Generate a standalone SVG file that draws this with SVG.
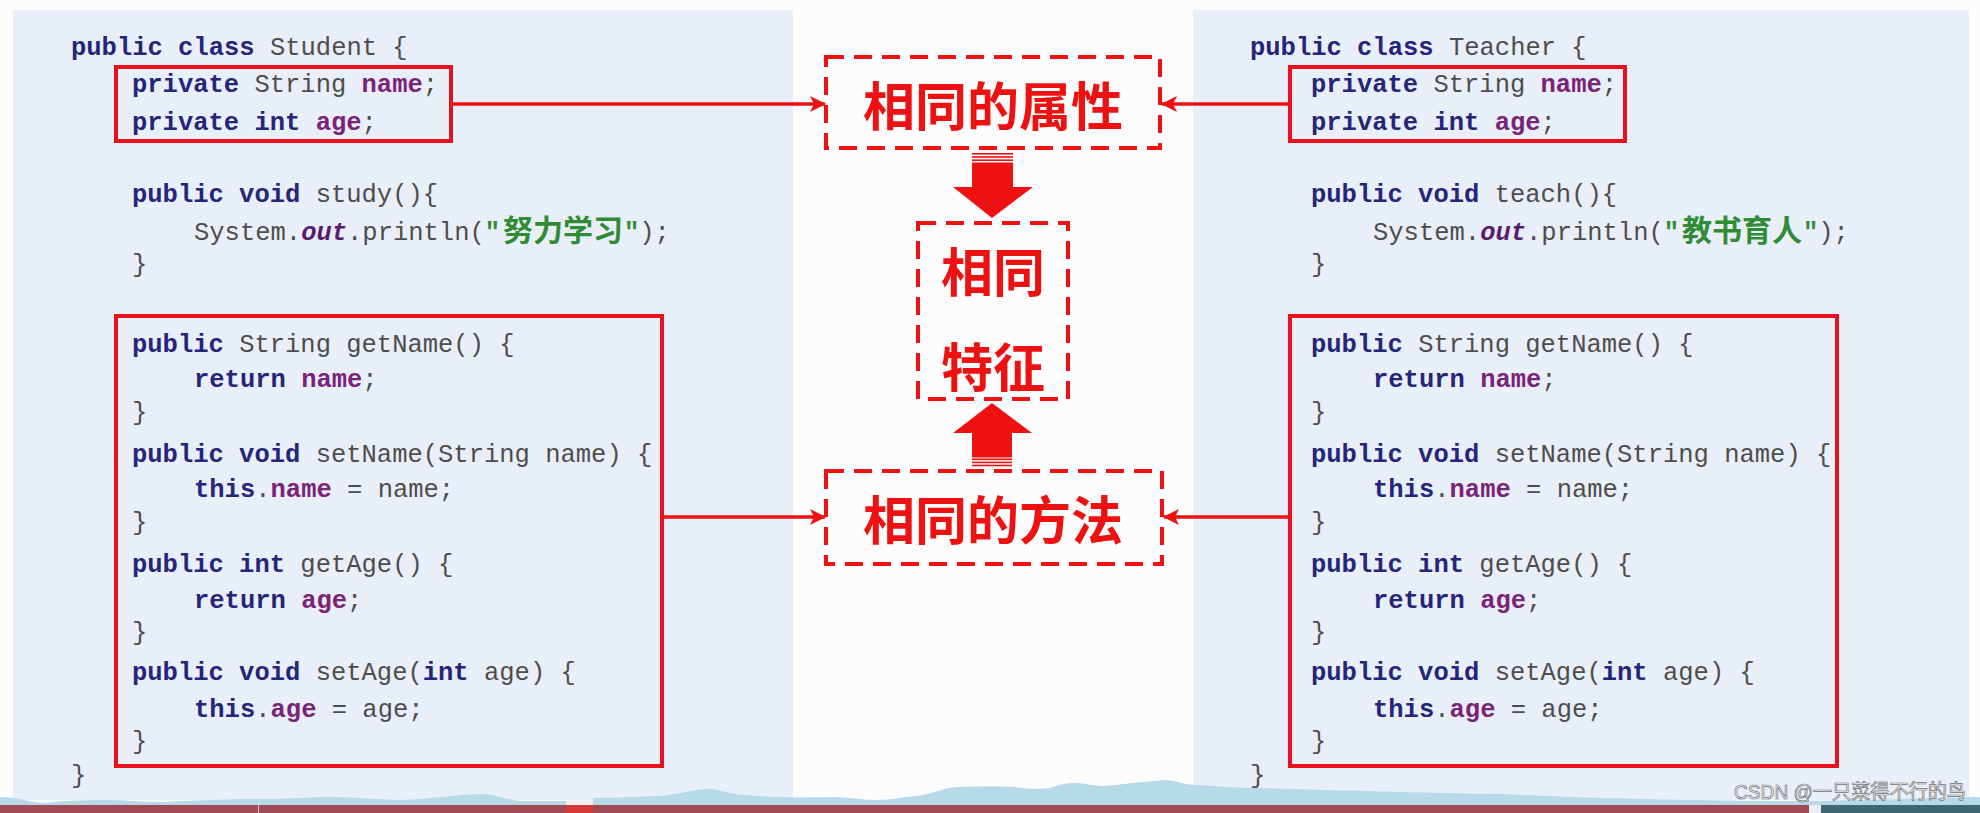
<svg xmlns="http://www.w3.org/2000/svg" width="1980" height="813" viewBox="0 0 1980 813">
<defs>
<style>
.code{font-family:'Liberation Mono','DejaVu Sans Mono',monospace;font-size:25.5px;fill:#4d4d4d}
.kw{fill:#25257a;font-weight:bold}
.fd{fill:#7b2379;font-weight:bold}
.out{fill:#5a1c6e;font-style:italic;font-weight:bold}
.str{fill:#2f8c35;font-weight:bold}
.cjk{font-family:'Noto Sans CJK SC',sans-serif;font-size:30px;fill:#2f8c35;font-weight:bold}
.panel{fill:#e9eff9}
.box{fill:none;stroke:#e8101a;stroke-width:4}
.dash{fill:none;stroke:#ee1111;stroke-width:4;stroke-dasharray:18 10}
.big{font-family:'Noto Sans CJK SC',sans-serif;font-size:52px;font-weight:bold;fill:#ee1111;text-anchor:middle}
.conn{stroke:#ee1111;stroke-width:3.5;fill:none}
.blk{fill:#ee1111}
</style>
<marker id="ah" markerWidth="16" markerHeight="16" refX="15" refY="8" orient="auto" markerUnits="userSpaceOnUse">
<path d="M0,0 L16,8 L0,16 L4,8 z" fill="#ee1111"/>
</marker>
</defs>

<!-- background -->
<rect x="0" y="0" width="1980" height="813" fill="#fcfcfd"/>
<rect class="panel" x="13" y="10" width="780" height="790"/>
<rect class="panel" x="1193" y="10" width="776" height="790"/>

<!-- Student class -->
<g id="student-class">
<text class="code" x="71" y="55" xml:space="preserve"><tspan class="kw">public class</tspan> Student {</text>
<text class="code" x="132" y="202" xml:space="preserve"><tspan class="kw">public void</tspan> study(){</text>
<text class="code" x="194" y="240" xml:space="preserve">System.<tspan class="out">out</tspan>.println(<tspan class="str">"</tspan></text>
<text class="cjk" x="503" y="241">努力学习</text>
<text class="code" x="624" y="240" xml:space="preserve"><tspan class="str">"</tspan>);</text>
<text class="code" x="132" y="272">}</text>
<text class="code" x="71" y="783">}</text>
</g>
<g id="student-fields">
<rect class="box" x="116" y="67" width="335" height="74"/>
<text class="code" x="132" y="92" xml:space="preserve"><tspan class="kw">private</tspan> String <tspan class="fd">name</tspan>;</text>
<text class="code" x="132" y="130" xml:space="preserve"><tspan class="kw">private int</tspan> <tspan class="fd">age</tspan>;</text>
</g>
<g id="student-methods">
<rect class="box" x="116" y="316" width="546" height="450"/>
<text class="code" x="132" y="352" xml:space="preserve"><tspan class="kw">public</tspan> String getName() {</text>
<text class="code" x="194" y="387" xml:space="preserve"><tspan class="kw">return</tspan> <tspan class="fd">name</tspan>;</text>
<text class="code" x="132" y="420">}</text>
<text class="code" x="132" y="462" xml:space="preserve"><tspan class="kw">public void</tspan> setName(String name) {</text>
<text class="code" x="194" y="497" xml:space="preserve"><tspan class="kw">this</tspan>.<tspan class="fd">name</tspan> = name;</text>
<text class="code" x="132" y="530">}</text>
<text class="code" x="132" y="572" xml:space="preserve"><tspan class="kw">public int</tspan> getAge() {</text>
<text class="code" x="194" y="608" xml:space="preserve"><tspan class="kw">return</tspan> <tspan class="fd">age</tspan>;</text>
<text class="code" x="132" y="640">}</text>
<text class="code" x="132" y="680" xml:space="preserve"><tspan class="kw">public void</tspan> setAge(<tspan class="kw">int</tspan> age) {</text>
<text class="code" x="194" y="717" xml:space="preserve"><tspan class="kw">this</tspan>.<tspan class="fd">age</tspan> = age;</text>
<text class="code" x="132" y="749">}</text>
</g>

<!-- Teacher class -->
<g id="teacher-class">
<text class="code" x="1250" y="55" xml:space="preserve"><tspan class="kw">public class</tspan> Teacher {</text>
<text class="code" x="1311" y="202" xml:space="preserve"><tspan class="kw">public void</tspan> teach(){</text>
<text class="code" x="1373" y="240" xml:space="preserve">System.<tspan class="out">out</tspan>.println(<tspan class="str">"</tspan></text>
<text class="cjk" x="1682" y="241">教书育人</text>
<text class="code" x="1803" y="240" xml:space="preserve"><tspan class="str">"</tspan>);</text>
<text class="code" x="1311" y="272">}</text>
<text class="code" x="1250" y="783">}</text>
</g>
<g id="teacher-fields">
<rect class="box" x="1290" y="67" width="335" height="74"/>
<text class="code" x="1311" y="92" xml:space="preserve"><tspan class="kw">private</tspan> String <tspan class="fd">name</tspan>;</text>
<text class="code" x="1311" y="130" xml:space="preserve"><tspan class="kw">private int</tspan> <tspan class="fd">age</tspan>;</text>
</g>
<g id="teacher-methods">
<rect class="box" x="1290" y="316" width="547" height="450"/>
<text class="code" x="1311" y="352" xml:space="preserve"><tspan class="kw">public</tspan> String getName() {</text>
<text class="code" x="1373" y="387" xml:space="preserve"><tspan class="kw">return</tspan> <tspan class="fd">name</tspan>;</text>
<text class="code" x="1311" y="420">}</text>
<text class="code" x="1311" y="462" xml:space="preserve"><tspan class="kw">public void</tspan> setName(String name) {</text>
<text class="code" x="1373" y="497" xml:space="preserve"><tspan class="kw">this</tspan>.<tspan class="fd">name</tspan> = name;</text>
<text class="code" x="1311" y="530">}</text>
<text class="code" x="1311" y="572" xml:space="preserve"><tspan class="kw">public int</tspan> getAge() {</text>
<text class="code" x="1373" y="608" xml:space="preserve"><tspan class="kw">return</tspan> <tspan class="fd">age</tspan>;</text>
<text class="code" x="1311" y="640">}</text>
<text class="code" x="1311" y="680" xml:space="preserve"><tspan class="kw">public void</tspan> setAge(<tspan class="kw">int</tspan> age) {</text>
<text class="code" x="1373" y="717" xml:space="preserve"><tspan class="kw">this</tspan>.<tspan class="fd">age</tspan> = age;</text>
<text class="code" x="1311" y="749">}</text>
</g>

<!-- center nodes -->
<g id="same-attributes">
<rect class="dash" x="826" y="57" width="334" height="91"/>
<text class="big" x="993" y="126">相同的属性</text>
</g>
<g id="same-features">
<rect class="dash" x="918" y="223" width="150" height="176"/>
<text class="big" x="993" y="292">相同</text>
<text class="big" x="993" y="387">特征</text>
</g>
<g id="same-methods">
<rect class="dash" x="826" y="471" width="336" height="93"/>
<text class="big" x="993" y="540">相同的方法</text>
</g>

<!-- connectors -->
<g id="connectors">
<line class="conn" x1="451" y1="104" x2="825" y2="104" marker-end="url(#ah)"/>
<line class="conn" x1="1290" y1="104" x2="1162" y2="104" marker-end="url(#ah)"/>
<line class="conn" x1="662" y1="517" x2="825" y2="517" marker-end="url(#ah)"/>
<line class="conn" x1="1290" y1="517" x2="1164" y2="517" marker-end="url(#ah)"/>
<g id="arrow-down">
<rect class="blk" x="972" y="153" width="41" height="1.6"/>
<rect class="blk" x="972" y="156.2" width="41" height="1.6"/>
<rect class="blk" x="972" y="159.4" width="41" height="1.6"/>
<rect class="blk" x="972" y="162.5" width="41" height="25"/>
<polygon class="blk" points="953,187 1033,187 992,218"/>
</g>
<g id="arrow-up">
<polygon class="blk" points="992,403 1032,433 953,433"/>
<rect class="blk" x="972" y="432.5" width="40" height="25"/>
<rect class="blk" x="972" y="458.5" width="40" height="1.6"/>
<rect class="blk" x="972" y="461.6" width="40" height="1.6"/>
<rect class="blk" x="972" y="464.7" width="40" height="1.6"/>
</g>
</g>

<!-- bottom decoration -->
<path fill="#b7dae9" d="M0,797 C20,797 30,803 45,803 C70,800 90,800 110,800 C135,801 150,802 165,802 C200,800 240,799 265,799 C290,799 310,797 330,797 C355,797 380,800 400,800 C430,799 460,794 485,794 C500,796 510,801 525,801 L566,801 L566,805 L0,805 Z"/>
<path fill="#b7dae9" d="M593,805 L593,798 C610,798 630,797 660,796 C680,794 695,789 708,789 C722,789 730,795 745,795 C770,797 790,798 830,797 C850,797 860,800 875,800 C895,800 905,796 918,796 C935,793 945,787 960,787 C985,786 1000,786 1015,787 C1030,789 1040,789 1050,788 C1060,784 1068,783 1078,783 C1090,784 1095,786 1105,786 C1125,784 1140,782 1165,780 C1180,781 1185,785 1195,785 C1230,787 1240,788 1260,788 C1320,790 1360,791 1400,792 C1450,793 1480,794 1500,794 C1550,796 1570,797 1600,798 C1650,799 1680,800 1700,800 C1750,801 1790,801 1810,801 C1860,800 1900,799 1940,798 C1960,797 1970,797 1980,797 L1980,805 Z"/>
<rect x="566" y="800" width="27" height="5" fill="#f2f2f2"/>
<rect x="0" y="805" width="1809" height="8" fill="#a04a56"/>
<rect x="566" y="805" width="27" height="8" fill="#d43a36"/>
<rect x="258" y="805" width="1" height="8" fill="#d8b8bc"/>
<rect x="1809" y="805" width="12" height="8" fill="#e8eef2"/>
<rect x="1821" y="805" width="159" height="8" fill="#3f6872"/>
<text x="1734" y="799" font-family="'Liberation Sans','Noto Sans CJK SC',sans-serif" font-size="20" fill="#f6f6f6" stroke="#707070" stroke-width="0.7" textLength="232" lengthAdjust="spacingAndGlyphs">CSDN @一只菜得不行的鸟</text>
</svg>
